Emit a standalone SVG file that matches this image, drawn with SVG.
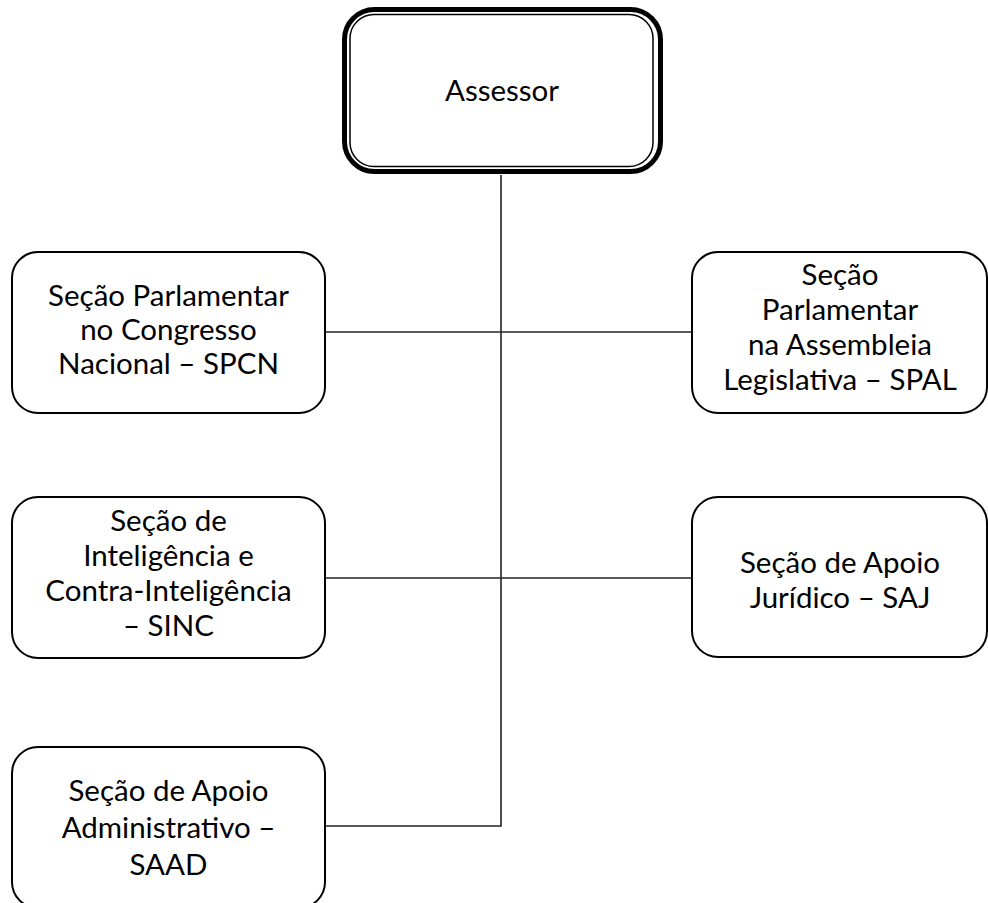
<svg xmlns="http://www.w3.org/2000/svg" width="988" height="903" viewBox="0 0 988 903">
<style>
.box{fill:#fff;stroke:#000;stroke-width:2}
.t{font-family:Lato,"Open Sans","Liberation Sans",sans-serif;font-size:29.5px;fill:#000;text-anchor:middle}
.c{fill:none;stroke:#222;stroke-width:1.6}
</style>
<rect width="988" height="903" fill="#fff"/>
<g id="connectors">
<path class="c" d="M501 175 V826 H325"/>
<path class="c" d="M325 332 H692"/>
<path class="c" d="M325 578 H692"/>
</g>
<g id="assessor">
<rect x="344.5" y="9.5" width="316" height="162" rx="30" fill="#fff" stroke="#000" stroke-width="5"/>
<rect x="350" y="14.5" width="303" height="152" rx="24" fill="none" stroke="#000" stroke-width="1.5"/>
<text class="t" x="502" y="101">Assessor</text>
</g>
<g id="spcn">
<rect class="box" x="12" y="252" width="313" height="161" rx="26"/>
<text class="t"><tspan x="168.5" y="306">Seção Parlamentar</tspan><tspan x="168.5" y="340">no Congresso</tspan><tspan x="168.5" y="374">Nacional – SPCN</tspan></text>
</g>
<g id="spal">
<rect class="box" x="692" y="252" width="295" height="161" rx="26"/>
<text class="t"><tspan x="840" y="285">Seção</tspan><tspan x="840" y="320">Parlamentar</tspan><tspan x="840" y="355">na Assembleia</tspan><tspan x="840" y="390">Legislativa – SPAL</tspan></text>
</g>
<g id="sinc">
<rect class="box" x="12" y="497" width="313" height="161" rx="26"/>
<text class="t"><tspan x="168.5" y="531">Seção de</tspan><tspan x="168.5" y="566">Inteligência e</tspan><tspan x="168.5" y="601">Contra-Inteligência</tspan><tspan x="168.5" y="636">– SINC</tspan></text>
</g>
<g id="saj">
<rect class="box" x="692" y="497" width="295" height="160" rx="26"/>
<text class="t"><tspan x="840" y="573">Seção de Apoio</tspan><tspan x="840" y="608">Jurídico – SAJ</tspan></text>
</g>
<g id="saad">
<rect class="box" x="12" y="747" width="313" height="161" rx="26"/>
<text class="t"><tspan x="168.5" y="801">Seção de Apoio</tspan><tspan x="168.5" y="838">Administrativo –</tspan><tspan x="168.5" y="875">SAAD</tspan></text>
</g>
</svg>
